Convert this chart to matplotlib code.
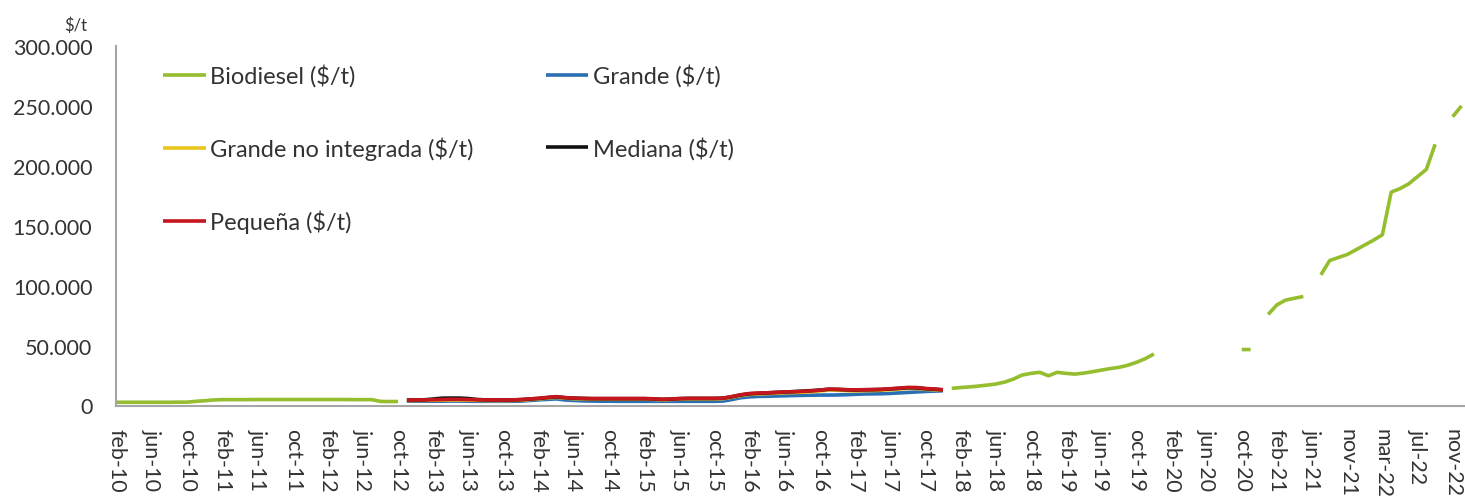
import numpy as np
import matplotlib
matplotlib.use("Agg")
import matplotlib.pyplot as plt
from matplotlib.ticker import FuncFormatter

nan = np.nan

# Category axis: monthly from feb-10 to dic-22 (jul-21 absent in source)
meses = ['ene', 'feb', 'mar', 'abr', 'may', 'jun', 'jul', 'ago', 'sep', 'oct', 'nov', 'dic']
categorias = []
for anio in range(10, 23):
    for m in range(12):
        if anio == 10 and m < 1:
            continue
        if anio == 21 and m == 6:
            continue
        categorias.append(f"{meses[m]}-{anio}")

tick_labels = ['feb-10', 'jun-10', 'oct-10', 'feb-11', 'jun-11', 'oct-11', 'feb-12', 'jun-12',
               'oct-12', 'feb-13', 'jun-13', 'oct-13', 'feb-14', 'jun-14', 'oct-14', 'feb-15',
               'jun-15', 'oct-15', 'feb-16', 'jun-16', 'oct-16', 'feb-17', 'jun-17', 'oct-17',
               'feb-18', 'jun-18', 'oct-18', 'feb-19', 'jun-19', 'oct-19', 'feb-20', 'jun-20',
               'oct-20', 'feb-21', 'jun-21', 'nov-21', 'mar-22', 'jul-22', 'nov-22']

biodiesel = (
    [2700, 2700, 2700, 2700, 2700, 2700, 2700, 2800, 2800, 3500, 4000, 4600, 4900,
     4900, 4900, 4900, 5000, 5000, 5000, 5000, 5000, 5000, 5000, 5000, 5000, 5000,
     5000, 4900, 4900, 4900, 3400, 3300, 3300]
    + [nan] * 62
    + [14300, 15000, 15500, 16200, 17000, 17900, 19500, 22000, 25400, 26800, 27700, 24800,
       27700, 26800, 26200, 27000, 28200, 29500, 30800, 31800, 33500, 36000, 39000, 43000]
    + [nan] * 9
    + [46700, 46700, nan, 76000, 84000, 88000, 89500, 91000, nan,
       109000, 121000, 123500, 126000, 130000, 134000, 138000, 142500, 178000, 181000,
       185000, 191000, 197000, 218000, nan, 241000, 250000]
)

# Other series: nov-12 .. dic-17
pequena_vals = [4600, 4600, 4700, 4800, 5000, 5200, 5200, 5000, 4800, 4700, 4600, 4600, 4700,
                5000, 5500, 6000, 6800, 7400, 6600, 6200, 6000, 5800, 5800, 5800, 5800, 5800,
                5800, 5800, 5600, 5200, 5400, 5800, 6000, 6000, 6000, 6000, 6200, 7500, 9000,
                10000, 10400, 10600, 11000, 11300, 11500, 11800, 12200, 12800, 13700, 13500,
                13200, 13000, 13200, 13300, 13500, 14000, 14500, 15100, 15000, 14200, 13800, 13200]
mediana_vals = [4500, 4600, 4800, 5400, 6100, 6200, 6200, 5800, 5000, 4700, 4600, 4500, 4600,
                4900, 5400, 5900, 6600, 7200, 6500, 6100, 5900, 5700, 5700, 5700, 5700, 5700,
                5700, 5700, 5500, 5100, 5300, 5700, 5900, 5900, 5900, 5900, 6100, 7300, 8800,
                9800, 10200, 10500, 10900, 11200, 11600, 12000, 12400, 12900, 13500, 13400,
                13100, 12900, 13100, 13200, 13400, 13800, 14300, 14800, 14700, 14000, 13600, 13000]
grande_ni_vals = [4200, 4200, 4300, 4400, 4500, 4600, 4600, 4500, 4300, 4200, 4100, 4100, 4200,
                  4500, 5000, 5500, 6200, 6800, 6100, 5700, 5500, 5300, 5300, 5300, 5300, 5300,
                  5300, 5300, 5100, 4800, 5000, 5300, 5500, 5500, 5500, 5500, 5700, 6900, 8300,
                  9300, 9700, 9900, 10300, 10600, 10800, 11100, 11500, 12100, 12900, 12700,
                  12400, 12200, 12400, 12500, 12700, 13200, 13700, 14300, 14200, 13500, 13100, 12700]
grande_vals = [3600, 3600, 3600, 3600, 3600, 3700, 3700, 3600, 3500, 3500, 3500, 3500, 3500,
               3700, 4200, 4700, 5100, 5500, 4600, 4200, 3900, 3700, 3600, 3600, 3500, 3500,
               3500, 3500, 3500, 3500, 3500, 3500, 3500, 3500, 3500, 3500, 3700, 5000, 6500,
               7200, 7600, 7700, 7900, 8100, 8300, 8500, 8600, 8700, 8700, 8800, 9000, 9300,
               9600, 9700, 9800, 10100, 10500, 10900, 11300, 11700, 12000, 12300]

pad_before = [nan] * 33
pad_after = [nan] * 59
pequena = pad_before + pequena_vals + pad_after
mediana = pad_before + mediana_vals + pad_after
grande_ni = pad_before + grande_ni_vals + pad_after
grande = pad_before + grande_vals + pad_after

series = [
    ("Biodiesel ($/t)", biodiesel, "#94BE2E"),
    ("Grande ($/t)", grande, "#2A6EB4"),
    ("Grande no integrada ($/t)", grande_ni, "#EBC51E"),
    ("Mediana ($/t)", mediana, "#111111"),
    ("Pequeña ($/t)", pequena, "#C4161C"),
]

plt.rcParams['font.family'] = ['Lato', 'DejaVu Sans']

fig = plt.figure(figsize=(14.65, 5.02), dpi=100)
ax = fig.add_axes([116 / 1465, 1 - 406.5 / 502, 1 - 116 / 1465, (406.5 - 47) / 502])

x = np.arange(len(categorias))
handles = {}
for name, vals, col in series:
    (h,) = ax.plot(x, np.array(vals, dtype=float), color=col, lw=2.6, label=name,
                   solid_capstyle='butt')
    handles[name] = h

ax.set_ylim(0, 300000)
ax.set_xlim(-0.1, 153.4)
ax.set_yticks(np.arange(0, 300001, 50000))
ax.yaxis.set_major_formatter(FuncFormatter(lambda v, p: f"{int(v):,}".replace(",", ".")))
ax.set_xticks(x[::4])
ax.set_xticklabels(tick_labels, rotation=-90, va='top', ha='center')

ax.tick_params(axis='both', length=0, labelsize=15.5, colors='#333333')
ax.tick_params(axis='y', pad=17)
ax.tick_params(axis='x', pad=16)
for s in ['top', 'right']:
    ax.spines[s].set_visible(False)
for s in ['left', 'bottom']:
    ax.spines[s].set_color('#A6A6A6')
    ax.spines[s].set_linewidth(1.5)

fig.text(76 / 1465, 1 - 26 / 502, "$/t", ha='center', va='center', fontsize=12,
         color='#333333')

order = ["Biodiesel ($/t)", "Grande no integrada ($/t)", "Pequeña ($/t)",
         "Grande ($/t)", "Mediana ($/t)"]
leg = ax.legend([handles[n] for n in order], order, ncol=2, frameon=False,
                loc='upper left', bbox_to_anchor=(163 / 1465, 1 - 65 / 502),
                bbox_transform=fig.transFigure, borderaxespad=0, borderpad=0,
                handlelength=1.8, handletextpad=0.2, columnspacing=3.05,
                labelspacing=2.1, fontsize=17)
for t in leg.get_texts():
    t.set_color('#333333')

fig.savefig("out.png", dpi=100)
